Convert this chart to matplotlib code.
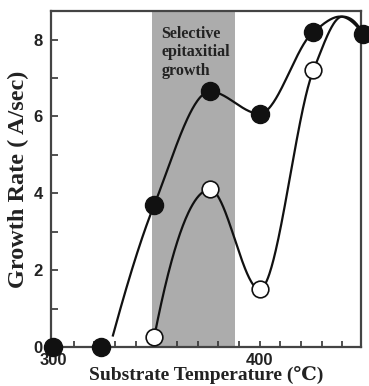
import matplotlib
matplotlib.use("Agg")
import matplotlib.pyplot as plt
import numpy as np

# measured points (substrate temperature in C, growth rate in A/sec)
temp_filled = [300, 323, 349, 376, 400, 426, 450]
rate_filled = [0.0, 0.0, 3.7, 6.65, 6.07, 8.2, 8.15]
temp_open = [349, 376, 400, 426]
rate_open = [0.26, 4.1, 1.5, 7.2]

# hand-drawn guide curves through the points
guide_filled_x = [329, 349, 376, 400, 426, 439, 450]
guide_filled_y = [0.3, 3.7, 6.65, 6.07, 8.2, 8.6, 8.15]
guide_open_x = [349, 376, 400, 426, 440, 450]
guide_open_y = [0.26, 4.1, 1.5, 7.2, 8.6, 8.15]

band = (348, 388)


# monotone cubic (pchip) so the curves don't overshoot the points
def pchip(xk, yk, xs):
    xk = np.asarray(xk, float)
    yk = np.asarray(yk, float)
    h = np.diff(xk)
    d = np.diff(yk) / h
    n = len(xk)
    m = np.zeros(n)
    for k in range(1, n - 1):
        if d[k - 1] * d[k] > 0:
            w1 = 2 * h[k] + h[k - 1]
            w2 = h[k] + 2 * h[k - 1]
            m[k] = (w1 + w2) / (w1 / d[k - 1] + w2 / d[k])
    m[0] = ((2 * h[0] + h[1]) * d[0] - h[0] * d[1]) / (h[0] + h[1])
    if np.sign(m[0]) != np.sign(d[0]):
        m[0] = 0
    m[-1] = ((2 * h[-1] + h[-2]) * d[-1] - h[-1] * d[-2]) / (h[-1] + h[-2])
    if np.sign(m[-1]) != np.sign(d[-1]):
        m[-1] = 0
    idx = np.clip(np.searchsorted(xk, xs) - 1, 0, n - 2)
    t = (xs - xk[idx]) / h[idx]
    h00 = 2 * t**3 - 3 * t**2 + 1
    h10 = t**3 - 2 * t**2 + t
    h01 = -2 * t**3 + 3 * t**2
    h11 = t**3 - t**2
    return (h00 * yk[idx] + h10 * h[idx] * m[idx]
            + h01 * yk[idx + 1] + h11 * h[idx] * m[idx + 1])


fig = plt.figure(figsize=(3.69, 3.86), dpi=100)
ax = fig.add_axes([0.138, 0.101, 0.840, 0.871])

ax.axvspan(band[0], band[1], color='#acacac', lw=0, zorder=0)

xs = np.linspace(guide_filled_x[0], guide_filled_x[-1], 300)
ax.plot(xs, pchip(guide_filled_x, guide_filled_y, xs), color='#111111', lw=1.6, zorder=2)
xs = np.linspace(guide_open_x[0], guide_open_x[-1], 300)
ax.plot(xs, pchip(guide_open_x, guide_open_y, xs), color='#111111', lw=1.6, zorder=2)

ax.plot(temp_filled, rate_filled, 'o', ms=13, mfc='#111111', mec='#111111',
        clip_on=False, zorder=4)
ax.plot(temp_open, rate_open, 'o', ms=12, mfc='white', mec='#111111', mew=1.2,
        clip_on=False, zorder=4)

ax.text(352.5, 8.36, 'Selective\nepitaxitial\ngrowth', family='Liberation Serif',
        fontweight='bold', fontsize=11.5, va='top', ha='left', linespacing=1.2,
        color='#222222')

ax.set_xlim(299, 449)
ax.set_ylim(0, 8.75)
ax.set_xticks([300, 400])
ax.set_xticks(np.arange(310, 450, 10), minor=True)
ax.set_yticks([0, 2, 4, 6, 8])
ax.set_yticks([1, 3, 5, 7], minor=True)
ax.tick_params(which='both', direction='in', width=1.2, color='#333333')
ax.tick_params(axis='y', which='both', length=5, pad=6)
ax.tick_params(axis='x', which='both', length=4, pad=4)
for lab in ax.get_xticklabels() + ax.get_yticklabels():
    lab.set_family('Liberation Sans')
    lab.set_fontweight('bold')
    lab.set_fontsize(12)
    lab.set_color('#222222')

for s in ax.spines.values():
    s.set_linewidth(1.6)
    s.set_color('#444444')

ax.set_xlabel('Substrate Temperature (\u2103)', family=['Liberation Serif', 'DejaVu Serif'],
              fontweight='bold', fontsize=14, labelpad=-1, color='#222222')
ax.set_ylabel('Growth Rate ( A/sec)', family='Liberation Serif', fontweight='bold',
              fontsize=17.5, labelpad=3, color='#222222')

fig.savefig('out.png', dpi=100)
